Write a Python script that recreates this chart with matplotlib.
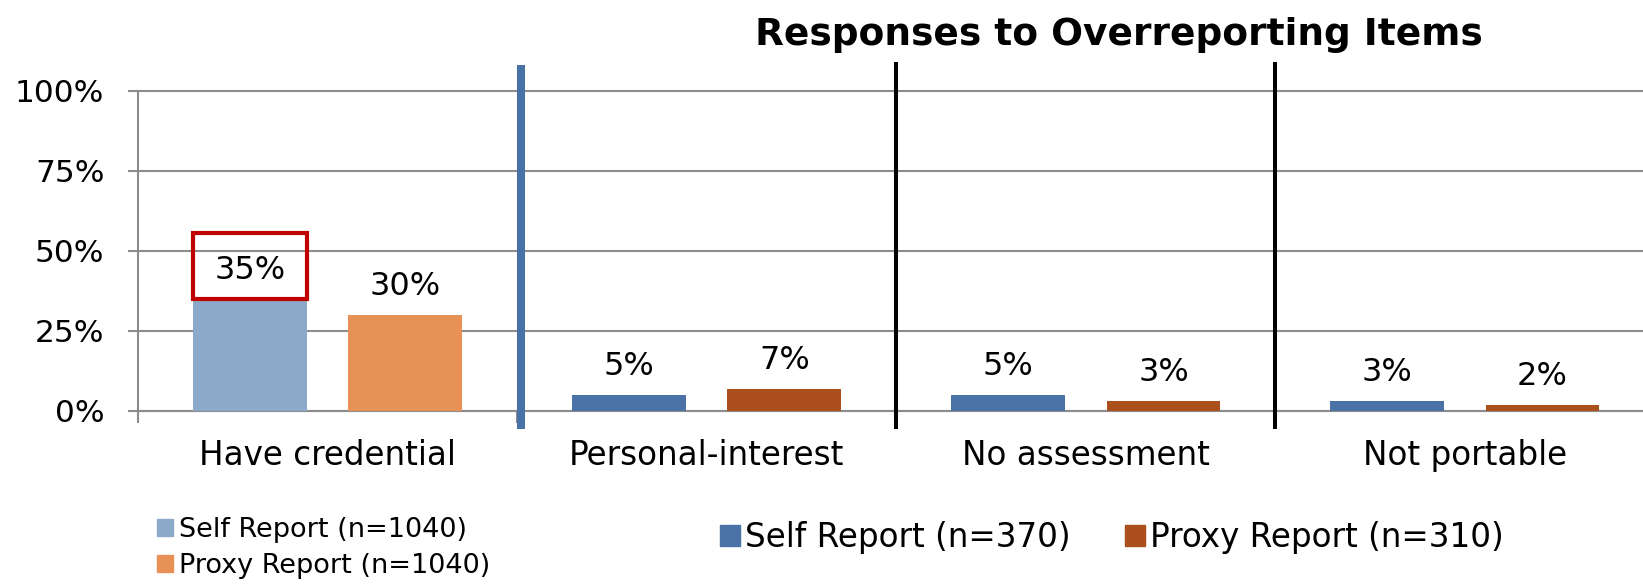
import matplotlib
matplotlib.use('Agg')
import matplotlib.pyplot as plt
from matplotlib.patches import Patch, Rectangle
import numpy as np


categories = ['Have credential', 'Personal-interest', 'No assessment', 'Not portable']
self_report = [0.35, 0.05, 0.05, 0.03]
proxy_report = [0.30, 0.07, 0.03, 0.02]
yticks = [0, 0.25, 0.5, 0.75, 1.0]
ytick_labels = ['0%', '25%', '50%', '75%', '100%']
title = 'Responses to Overreporting Items'
legend_first = ['Self Report (n=1040)', 'Proxy Report (n=1040)']
legend_rest = ['Self Report (n=370)', 'Proxy Report (n=310)']
fname = 'out.png'

light_blue, light_orange = '#8DA9C9', '#E89156'
dark_blue, dark_orange = '#4A72A6', '#AB4F1C'
grid_gray = '#8C8C8C'
fsz = 22.5

#-----

x = np.arange(len(categories))
offset = 0.205  # distance of each bar from the category centre
width = 0.30

W, H = 1643, 587
fig = plt.figure(figsize=(W / 100, H / 100), dpi=100)
ax = fig.add_axes([138 / W, 1 - 411 / H, 1 - 138 / W, 320 / H])

self_colors = [light_blue] + [dark_blue] * (len(categories) - 1)
proxy_colors = [light_orange] + [dark_orange] * (len(categories) - 1)
rects_self = ax.bar(x - offset, self_report, width, color=self_colors, zorder=3)
rects_proxy = ax.bar(x + offset, proxy_report, width, color=proxy_colors, zorder=3)

ax.set_xlim(-0.5, 3.47)
ax.set_ylim(0, 1)

# axes styling, Excel-like
for side in ['top', 'right']:
    ax.spines[side].set_visible(False)
for side in ['left', 'bottom']:
    ax.spines[side].set_color(grid_gray)
    ax.spines[side].set_linewidth(1.5)
ax.set_yticks(yticks)
ax.set_yticklabels(ytick_labels)
ax.yaxis.grid(True, color=grid_gray, linewidth=1.5, zorder=0)
for line in ax.get_ygridlines():
    line.set_clip_on(False)
ax.set_axisbelow(True)
ax.tick_params(axis='y', length=7.2, width=1.5, color=grid_gray, pad=17, labelsize=fsz)

ax.set_xticks(x)
ax.set_xticklabels(categories)
ax.set_xticks(x - 0.5, minor=True)
ax.tick_params(axis='x', which='major', length=0, pad=20, labelsize=23.5)
ax.tick_params(axis='x', which='minor', length=8.6, width=1.5, color=grid_gray)


def autolabel(rects, values):
    """Put the percentage above each bar."""
    for rect, v in zip(rects, values):
        ax.annotate('{:.0f}%'.format(v * 100),
                    xy=(rect.get_x() + rect.get_width() / 2, v),
                    xytext=(0, 14.4), textcoords='offset points',
                    ha='center', va='baseline', fontsize=23)


autolabel(rects_self, self_report)
autolabel(rects_proxy, proxy_report)

# red highlight box above the first bar
r0 = rects_self[0]
ax.add_patch(Rectangle((r0.get_x(), r0.get_height()), r0.get_width(), 0.205,
                       fill=False, edgecolor='#C00000', linewidth=3, zorder=4))

# group separators
trans = ax.get_xaxis_transform()
for i, b in enumerate(x[:-1] + 0.5):
    if i == 0:
        ax.plot([b + 0.01, b + 0.01], [-0.056, 1.081], transform=trans, color='#4A72A6',
                linewidth=5.8, clip_on=False, zorder=5, solid_capstyle='butt')
    else:
        ax.plot([b, b], [-0.056, 1.091], transform=trans, color='black',
                linewidth=2.9, clip_on=False, zorder=5, solid_capstyle='butt')

fig.text(1119 / W, 1 - 35 / H, title, ha='center', va='center',
         fontsize=27, fontweight='bold')

# legends
h1 = [Patch(color=light_blue), Patch(color=light_orange)]
leg1 = fig.legend(h1, legend_first, loc='upper left',
                  bbox_to_anchor=(157 / W, 1 - 517 / H), bbox_transform=fig.transFigure,
                  frameon=False, fontsize=19.5, handlelength=0.58, handleheight=0.58,
                  handletextpad=0.25, labelspacing=0.38, borderpad=0, borderaxespad=0)
h2 = [Patch(color=dark_blue), Patch(color=dark_orange)]
leg2 = fig.legend(h2, legend_rest, loc='upper left', ncol=2,
                  bbox_to_anchor=(720 / W, 1 - 521 / H), bbox_transform=fig.transFigure,
                  frameon=False, fontsize=23.5, handlelength=0.62, handleheight=0.62,
                  handletextpad=0.15, columnspacing=1.65, borderpad=0, borderaxespad=0)

plt.savefig(fname, dpi=100)
